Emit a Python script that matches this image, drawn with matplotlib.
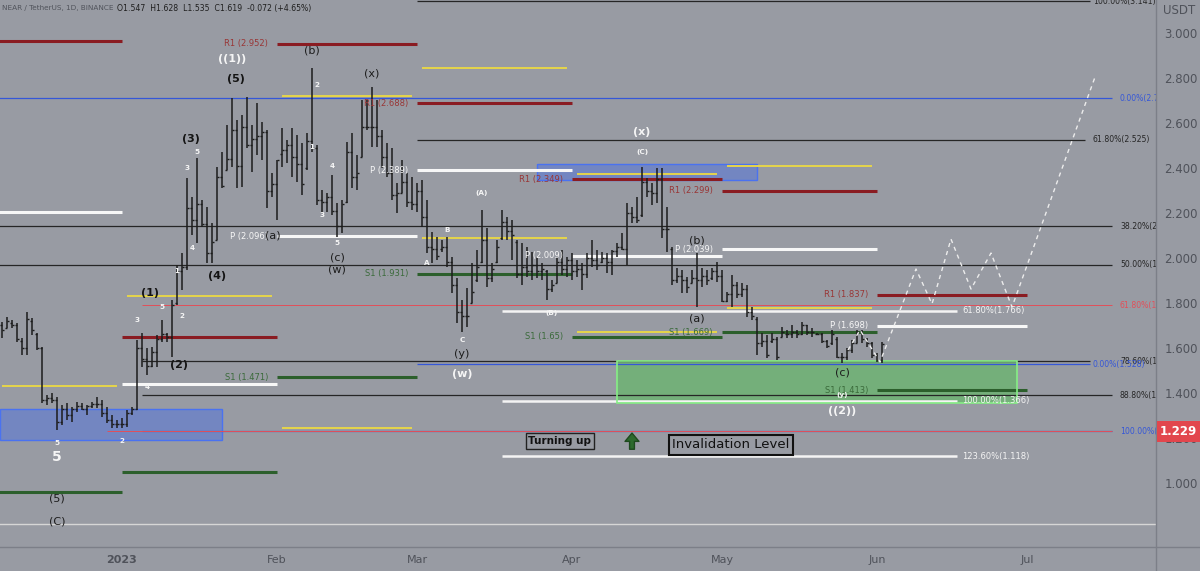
import numpy as np
import matplotlib
matplotlib.use('Agg')
import matplotlib.pyplot as plt
import matplotlib.transforms as mtransforms
from matplotlib.patches import Rectangle
from matplotlib.lines import Line2D

# daily NEAR/USDT bars, first bar is 8 Dec 2022 (day -24 counted from 1 Jan 2023)
first_day = -24
bar_open = [
    1.70, 1.69, 1.71, 1.70, 1.63, 1.60, 1.72, 1.66, 1.60, 1.37,
    1.38, 1.37, 1.27, 1.33, 1.30, 1.33, 1.34, 1.33, 1.34, 1.35,
    1.35, 1.31, 1.28, 1.26, 1.26, 1.26, 1.31, 1.33, 1.60, 1.55,
    1.52, 1.58, 1.64, 1.66, 1.65, 1.80, 1.94, 1.96, 2.22, 2.17,
    2.24, 2.15, 2.02, 2.08, 2.36, 2.32, 2.44, 2.57, 2.41, 2.58,
    2.50, 2.53, 2.54, 2.56, 2.30, 2.33, 2.46, 2.48, 2.50, 2.45,
    2.42, 2.40, 2.52, 2.49, 2.26, 2.25, 2.27, 2.21, 2.14, 2.25,
    2.47, 2.36, 2.45, 2.58, 2.58, 2.58, 2.54, 2.45, 2.38, 2.28,
    2.29, 2.34, 2.25, 2.24, 2.30, 2.18, 2.05, 2.04, 2.04, 2.05,
    1.98, 1.88, 1.76, 1.74, 1.80, 1.90, 1.98, 2.08, 1.91, 1.98,
    2.09, 2.16, 2.12, 2.07, 1.93, 1.96, 1.94, 1.97, 1.94, 1.94,
    1.86, 1.89, 1.98, 1.95, 1.99, 1.94, 1.95, 1.93, 2.00, 1.99,
    1.98, 2.00, 1.98, 2.03, 2.05, 2.04, 2.20, 2.18, 2.19, 2.34,
    2.30, 2.29, 2.35, 2.13, 2.04, 1.90, 1.92, 1.90, 1.89, 1.91,
    1.90, 1.92, 1.91, 1.94, 1.92, 1.81, 1.84, 1.88, 1.84, 1.86,
    1.76, 1.73, 1.62, 1.63, 1.63, 1.64, 1.65, 1.66, 1.66, 1.67,
    1.66, 1.70, 1.67, 1.66, 1.66, 1.63, 1.62, 1.64, 1.56, 1.56,
    1.59, 1.62, 1.67, 1.64, 1.62, 1.57, 1.547]
bar_high = [
    1.716, 1.738, 1.724, 1.711, 1.644, 1.760, 1.733, 1.667, 1.604, 1.391,
    1.400, 1.382, 1.347, 1.356, 1.338, 1.360, 1.356, 1.347, 1.360, 1.382,
    1.369, 1.338, 1.302, 1.280, 1.289, 1.324, 1.338, 1.636, 1.667, 1.600,
    1.604, 1.658, 1.724, 1.667, 1.813, 1.969, 2.022, 2.356, 2.271, 2.444,
    2.258, 2.227, 2.156, 2.404, 2.471, 2.591, 2.711, 2.613, 2.636, 2.716,
    2.591, 2.689, 2.604, 2.569, 2.378, 2.436, 2.578, 2.524, 2.578, 2.547,
    2.511, 2.556, 2.844, 2.502, 2.302, 2.289, 2.369, 2.244, 2.258, 2.516,
    2.556, 2.458, 2.702, 2.702, 2.760, 2.702, 2.569, 2.511, 2.489, 2.333,
    2.436, 2.378, 2.360, 2.333, 2.347, 2.258, 2.116, 2.093, 2.080, 2.093,
    2.004, 1.911, 1.813, 1.867, 1.978, 2.036, 2.213, 2.133, 1.978, 2.080,
    2.213, 2.182, 2.169, 2.080, 2.067, 2.049, 2.027, 2.004, 1.978, 1.947,
    1.902, 2.004, 2.036, 2.004, 2.022, 1.991, 1.978, 2.022, 2.080, 2.036,
    2.027, 2.022, 2.036, 2.067, 2.111, 2.244, 2.227, 2.271, 2.404, 2.356,
    2.333, 2.400, 2.400, 2.227, 2.049, 1.956, 1.947, 1.916, 1.947, 2.022,
    1.956, 1.947, 1.956, 1.982, 1.947, 1.849, 1.924, 1.893, 1.889, 1.880,
    1.782, 1.738, 1.667, 1.658, 1.667, 1.649, 1.693, 1.680, 1.702, 1.680,
    1.716, 1.702, 1.689, 1.667, 1.667, 1.636, 1.680, 1.649, 1.578, 1.600,
    1.636, 1.680, 1.680, 1.644, 1.627, 1.578, 1.628]
bar_low = [
    1.644, 1.689, 1.689, 1.627, 1.569, 1.569, 1.658, 1.591, 1.356, 1.347,
    1.356, 1.236, 1.258, 1.280, 1.271, 1.316, 1.324, 1.302, 1.333, 1.333,
    1.293, 1.267, 1.244, 1.244, 1.244, 1.249, 1.302, 1.324, 1.516, 1.480,
    1.516, 1.516, 1.627, 1.627, 1.560, 1.791, 1.858, 1.947, 2.102, 2.067,
    2.138, 1.978, 1.978, 2.080, 2.311, 2.391, 2.404, 2.311, 2.316, 2.489,
    2.382, 2.458, 2.436, 2.222, 2.271, 2.169, 2.404, 2.422, 2.360, 2.338,
    2.280, 2.391, 2.471, 2.236, 2.200, 2.204, 2.191, 2.093, 2.111, 2.244,
    2.311, 2.302, 2.449, 2.569, 2.493, 2.493, 2.400, 2.360, 2.258, 2.200,
    2.289, 2.227, 2.213, 2.204, 2.138, 2.022, 1.978, 1.991, 2.027, 1.960,
    1.844, 1.711, 1.671, 1.693, 1.800, 1.893, 1.978, 1.871, 1.893, 1.978,
    2.080, 2.080, 1.991, 1.911, 1.880, 1.916, 1.902, 1.911, 1.902, 1.813,
    1.849, 1.889, 1.924, 1.916, 1.902, 1.916, 1.858, 1.911, 1.960, 1.947,
    1.978, 1.933, 1.924, 2.004, 2.036, 1.969, 2.156, 2.156, 2.182, 2.271,
    2.236, 2.244, 2.089, 2.027, 1.880, 1.889, 1.844, 1.844, 1.889, 1.782,
    1.871, 1.880, 1.902, 1.893, 1.804, 1.804, 1.782, 1.822, 1.827, 1.738,
    1.724, 1.569, 1.604, 1.556, 1.622, 1.547, 1.649, 1.644, 1.644, 1.644,
    1.658, 1.658, 1.649, 1.658, 1.622, 1.600, 1.613, 1.556, 1.533, 1.547,
    1.578, 1.622, 1.622, 1.604, 1.556, 1.538, 1.535]
bar_close = [
    1.68, 1.72, 1.70, 1.64, 1.60, 1.73, 1.68, 1.60, 1.37, 1.38,
    1.37, 1.27, 1.33, 1.30, 1.33, 1.34, 1.33, 1.34, 1.35, 1.35,
    1.31, 1.28, 1.26, 1.26, 1.26, 1.31, 1.33, 1.60, 1.55, 1.52,
    1.58, 1.64, 1.66, 1.65, 1.79, 1.94, 1.96, 2.22, 2.17, 2.24,
    2.15, 2.02, 2.07, 2.36, 2.32, 2.44, 2.57, 2.41, 2.58, 2.50,
    2.53, 2.54, 2.56, 2.30, 2.33, 2.46, 2.48, 2.50, 2.45, 2.42,
    2.33, 2.52, 2.49, 2.26, 2.25, 2.27, 2.21, 2.14, 2.24, 2.47,
    2.36, 2.38, 2.58, 2.58, 2.58, 2.54, 2.45, 2.38, 2.28, 2.29,
    2.34, 2.25, 2.24, 2.30, 2.18, 2.05, 2.04, 2.01, 2.05, 1.98,
    1.88, 1.76, 1.74, 1.74, 1.85, 1.96, 2.08, 1.91, 1.95, 2.05,
    2.16, 2.12, 2.10, 1.93, 1.96, 1.94, 1.97, 1.94, 1.95, 1.86,
    1.88, 1.98, 1.95, 1.99, 1.94, 1.95, 1.93, 2.00, 1.99, 1.97,
    2.00, 1.98, 2.03, 2.05, 2.04, 2.20, 2.18, 2.17, 2.34, 2.30,
    2.29, 2.35, 2.13, 2.13, 1.90, 1.92, 1.90, 1.87, 1.91, 1.90,
    1.92, 1.90, 1.94, 1.92, 1.81, 1.84, 1.88, 1.84, 1.86, 1.76,
    1.74, 1.62, 1.63, 1.57, 1.64, 1.56, 1.67, 1.66, 1.67, 1.66,
    1.70, 1.67, 1.67, 1.66, 1.63, 1.61, 1.66, 1.56, 1.56, 1.59,
    1.62, 1.67, 1.64, 1.62, 1.57, 1.547, 1.619]

# monthly pivot levels, Dec 2022 .. Jun 2023 (None = not drawn)
month_start = [-25, 0, 31, 59, 90, 120, 151]
month_end = [0, 31, 59, 90, 120, 151, 181]
pivot_r1 = [2.964, 1.648, 2.952, 2.688, 2.349, 2.299, 1.837]
pivot_p = [2.204, 1.438, 2.096, 2.389, 2.009, 2.039, 1.698]
pivot_s1 = [0.960, 1.047, 1.471, 1.931, 1.650, 1.669, 1.413]
prev_high = [None, 1.831, 2.720, 2.844, 2.373, 2.409, None]
prev_low = [1.431, None, 1.244, 2.089, 1.671, 1.778, None]

# fibonacci levels: value, label, start day, end day, colour key
fib_value = [3.141, 2.711, 2.525, 2.142, 1.969, 1.791, 1.542, 1.528, 1.391, 1.229]
fib_label = ['100.00%(3.141)', '0.00%(2.711)', '61.80%(2.525)', '38.20%(2.142)',
             '50.00%(1.969)', '61.80%(1.791)', '78.60%(1.542)', '0.00%(1.528)',
             '88.80%(1.391)', '100.00%(1.229)']
fib_start = [59, -25, 59, -25, -25, 4, 4, 59, 4, 4]
fib_end = [193.6, 198, 192.6, 198, 198, 198, 193.6, 193.6, 198, 198]
fib_label_day = [194.2, 199.6, 194.2, 199.6, 199.6, 199.6, 199.6, 194.2, 199.6, 199.6]
fib_colour = ['k', 'b', 'k', 'k', 'k', 'r', 'k', 'b', 'k', 'b']

# white extension fib
ext_value = [1.766, 1.366, 1.118]
ext_label = ['61.80%(1.766)', '100.00%(1.366)', '123.60%(1.118)']

# projected path (dashed)
proj_day = [145.2, 147.6, 151.6, 158.8, 162.0, 165.8, 169.8, 173.8, 178.0, 194.6]
proj_price = [1.591, 1.680, 1.538, 1.951, 1.796, 2.084, 1.862, 2.022, 1.782, 2.804]

# wave labels: text, day, price, style
wave_labels = [
    ('5', -13, 1.116, 'wbig'), ('5', -13, 1.178, 'ws'), ('(5)', -13, 0.933, 'k'),
    ('(C)', -13, 0.831, 'k'), ('2', 0, 1.187, 'ws'), ('3', 3, 1.724, 'ws'),
    ('5', 8, 1.782, 'ws'), ('2', 12, 1.742, 'ws'), ('(2)', 11.4, 1.524, 'kb'),
    ('4', 5, 1.427, 'ws'), ('1', 11, 1.942, 'ws'), ('(1)', 5.6, 1.844, 'kb'),
    ('3', 13, 2.400, 'ws'), ('5', 15, 2.471, 'ws'), ('(3)', 13.8, 2.529, 'kb'),
    ('4', 14, 2.044, 'ws'), ('(4)', 19, 1.920, 'kb'), ('(5)', 22.8, 2.796, 'kb'),
    ('((1))', 22, 2.884, 'wb'), ('(b)', 38, 2.920, 'k'), ('2', 39, 2.769, 'ws'),
    ('1', 38, 2.493, 'ws'), ('4', 42, 2.409, 'ws'), ('3', 40, 2.191, 'ws'),
    ('5', 43, 2.067, 'ws'), ('(a)', 30.2, 2.098, 'k'), ('(c)', 43, 2.000, 'k'),
    ('(w)', 43, 1.951, 'k'), ('(x)', 50, 2.822, 'k'), ('A', 61, 1.978, 'ws'),
    ('B', 65, 2.124, 'ws'), ('C', 68, 1.636, 'ws'), ('(y)', 68, 1.573, 'k'),
    ('(w)', 68, 1.484, 'wb'), ('(A)', 72, 2.289, 'ws'), ('(B)', 86, 1.756, 'ws'),
    ('(C)', 104, 2.471, 'ws'), ('(x)', 104, 2.560, 'wb'), ('(b)', 115, 2.076, 'k'),
    ('(a)', 115, 1.733, 'k'), ('(c)', 144, 1.489, 'k'), ('(y)', 144, 1.391, 'ws'),
    ('((2))', 144, 1.320, 'wb'),
]

price_ticks = [1.0, 1.2, 1.4, 1.6, 1.8, 2.0, 2.2, 2.4, 2.6, 2.8, 3.0]
month_ticks = [0, 31, 59, 90, 120, 151, 181]
month_names = ['2023', 'Feb', 'Mar', 'Apr', 'May', 'Jun', 'Jul']
last_price = 1.229

BG = '#989ba3'
AXIS_TXT = '#4f525a'
R_LINE, R_TXT = '#8a1c22', '#983636'
P_LINE, P_TXT = '#f7f7f7', '#f7f7f7'
S_LINE, S_TXT = '#2c5f2c', '#3a6a3a'
Y_LINE = '#e6d54a'
FIB = {'k': '#262626', 'b': '#3557d8', 'r': '#e24f59'}

W, H = 1200, 571
fig = plt.figure(figsize=(W / 100, H / 100), dpi=100)
fig.patch.set_facecolor(BG)
ax = fig.add_axes([0, 24 / H, 1156 / W, 547 / H])
ax.set_facecolor(BG)
ax.set_xlim(-24.4, 206.8)
ax.set_ylim(3.0 - 514 / 225, 3.0 + 33 / 225)
for s in ax.spines.values():
    s.set_visible(False)

# ---- fib lines ----
for v, lab, x0, x1, xl, c in zip(fib_value, fib_label, fib_start, fib_end, fib_label_day, fib_colour):
    lw = 0.7 if c == 'r' else 0.9
    ax.hlines(v, x0, x1, color=FIB[c], lw=lw, zorder=2)
    ax.text(xl, v, lab, color=FIB[c], fontsize=5.6, va='center', ha='left', clip_on=True, zorder=6)
ax.hlines(last_price, -3, 198, color=FIB['r'], lw=0.7, zorder=2)
ax.hlines(0.818, -30, 220, color='#d6d6d6', lw=1.0, zorder=2)

for v, lab in zip(ext_value, ext_label):
    ax.hlines(v, 76, 167, color='#f4f4f4', lw=1.8, zorder=3)
    ax.text(168, v, lab, color='#f4f4f4', fontsize=6, va='center', ha='left', zorder=6)

# ---- boxes ----
ax.add_patch(Rectangle((-24.4, 1.191), 44.4, 0.138, facecolor='#466ee6', alpha=0.45,
                       edgecolor='none', zorder=1))
ax.add_patch(Rectangle((-24.4, 1.191), 44.4, 0.138, facecolor='none', edgecolor='#4a72f0',
                       lw=1.0, zorder=1))
ax.add_patch(Rectangle((83, 2.347), 44, 0.071, facecolor='#466ee6', alpha=0.45,
                       edgecolor='none', zorder=1))
ax.add_patch(Rectangle((83, 2.347), 44, 0.071, facecolor='none', edgecolor='#4a72f0',
                       lw=1.0, zorder=1))
ax.add_patch(Rectangle((99, 1.356), 80, 0.186, facecolor='#52c452', alpha=0.5,
                       edgecolor='none', zorder=1))
ax.add_patch(Rectangle((99, 1.356), 80, 0.186, facecolor='none', edgecolor='#86ee86',
                       lw=1.2, zorder=4))

# ---- monthly pivots ----
for i in range(len(month_start)):
    a, b = month_start[i], month_end[i]
    ax.hlines(pivot_r1[i], a, b, color=R_LINE, lw=2.2, zorder=3)
    ax.hlines(pivot_p[i], a, b, color=P_LINE, lw=2.2, zorder=3)
    ax.hlines(pivot_s1[i], a, b, color=S_LINE, lw=2.2, zorder=3)
    if prev_high[i] is not None:
        ax.hlines(prev_high[i], a + 1, b - 1, color=Y_LINE, lw=1.4, zorder=3)
    if prev_low[i] is not None:
        ax.hlines(prev_low[i], a + 1, b - 1, color=Y_LINE, lw=1.4, zorder=3)
    if a > 0:
        for v, name, col in ((pivot_r1[i], 'R1', R_TXT), (pivot_p[i], 'P', P_TXT),
                             (pivot_s1[i], 'S1', S_TXT)):
            ax.text(a - 1.8, v, '{} ({:g})'.format(name, v), color=col, fontsize=6,
                    ha='right', va='center', zorder=6)

# ---- OHLC bars ----
days = np.arange(len(bar_high)) + first_day
hi = np.array(bar_high)
lo = np.array(bar_low)
op = np.clip(bar_open, lo, hi)
cl = np.clip(bar_close, lo, hi)
bar_col = '#1c1c1c'
ax.vlines(days, lo, hi, color=bar_col, lw=1.1, zorder=5)
ax.hlines(op, days - 0.45, days, color=bar_col, lw=1.0, zorder=5)
ax.hlines(cl, days, days + 0.45, color=bar_col, lw=1.0, zorder=5)

# ---- projection ----
ax.plot(proj_day, proj_price, color='#ececec', lw=1.0, ls=(0, (3, 3)), zorder=6)

# ---- wave labels ----
styles = {
    'k': dict(color='#1c1c1c', fontsize=8),
    'kb': dict(color='#141414', fontsize=8, fontweight='bold'),
    'ws': dict(color='#f5f5f5', fontsize=5.2, fontweight='bold'),
    'wb': dict(color='#f5f5f5', fontsize=8, fontweight='bold'),
    'wbig': dict(color='#f5f5f5', fontsize=10, fontweight='bold'),
}
for txt, d, p, st in wave_labels:
    ax.text(d, p, txt, ha='center', va='center', zorder=7, **styles[st])

# ---- notes ----
ax.text(87.6, 1.187, 'Turning up', fontsize=7.5, fontweight='bold', color='#111111',
        ha='center', va='center', zorder=7,
        bbox=dict(boxstyle='square,pad=0.25', facecolor='none', edgecolor='#222222', lw=1.0))
ax.annotate('', xy=(102, 1.222), xytext=(102, 1.150),
            arrowprops=dict(facecolor='#2c6a2c', edgecolor='#1e4a1e', width=3.5,
                            headwidth=10, headlength=6), zorder=7)
ax.text(121.8, 1.169, 'Invalidation Level', fontsize=9.5, color='#111111',
        ha='center', va='center', zorder=7,
        bbox=dict(boxstyle='square,pad=0.25', facecolor='none', edgecolor='#111111', lw=1.5))

# ---- axes / ticks ----
ax.yaxis.tick_right()
ax.set_yticks(price_ticks)
ax.set_yticklabels(['{:.3f}'.format(v) for v in price_ticks])
ax.tick_params(axis='y', length=0, pad=6, labelsize=8.5, labelcolor=AXIS_TXT)
ax.set_xticks(month_ticks)
ax.set_xticklabels(month_names)
ax.tick_params(axis='x', length=0, pad=6, labelsize=8, labelcolor=AXIS_TXT)
ax.get_xticklabels()[0].set_fontweight('bold')

fig.add_artist(Line2D([0, 1], [24 / H, 24 / H], color='#7c7f88', lw=1.0))
fig.add_artist(Line2D([1156 / W, 1156 / W], [0, 1], color='#7c7f88', lw=1.0))

# last price tag
trans = mtransforms.blended_transform_factory(fig.transFigure, ax.transData)
fig.patches.append(Rectangle((1157 / W, last_price - 0.045), 43 / W, 0.09, transform=trans,
                             facecolor='#e2464d', edgecolor='none', zorder=10))
fig.text(1178 / W, last_price, '{:.3f}'.format(last_price), transform=trans, color='white',
         fontsize=8.5, fontweight='bold', ha='center', va='center', zorder=11)

fig.text(1163 / W, 1 - 11 / H, 'USDT', color=AXIS_TXT, fontsize=8.5, va='center')
fig.text(113 / W, 1 - 8 / H, 'NEAR / TetherUS, 1D, BINANCE', color='#50535b', fontsize=5.2,
         va='center', ha='right')
fig.text(117 / W, 1 - 8 / H, 'O1.547  H1.628  L1.535  C1.619  -0.072 (+4.65%)', color='#1f1f1f',
         fontsize=5.6, va='center', ha='left')

fig.savefig('out.png', dpi=100, facecolor=BG)
